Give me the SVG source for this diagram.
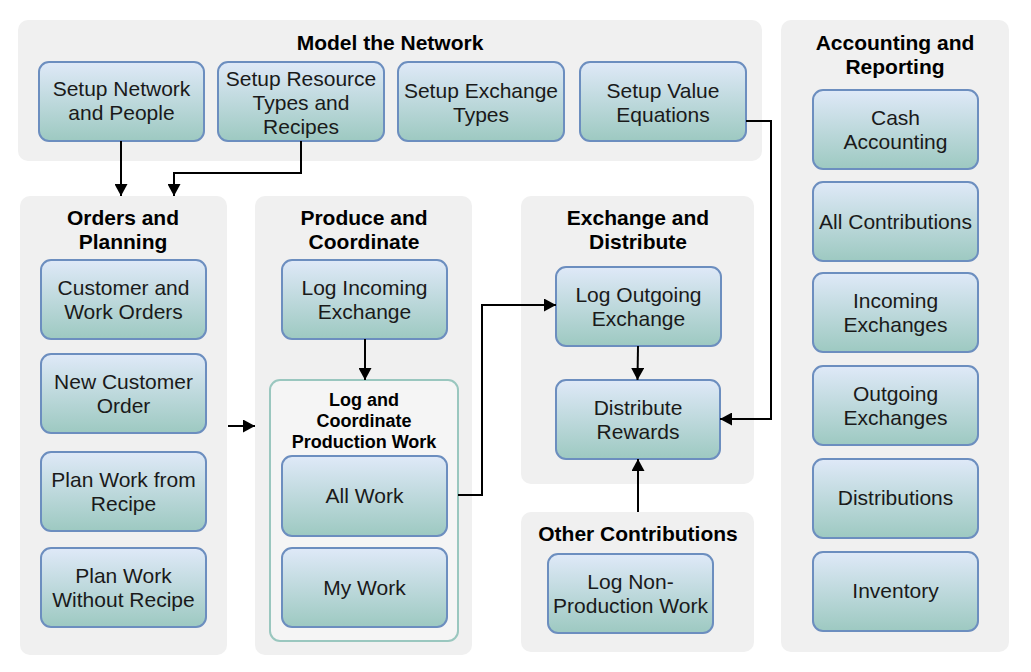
<svg xmlns="http://www.w3.org/2000/svg" width="1031" height="672" viewBox="0 0 1031 672">
<defs>
<linearGradient id="g" x1="0" y1="0" x2="0" y2="1">
<stop offset="0" stop-color="#dfe9f8"/>
<stop offset="1" stop-color="#9dc9c1"/>
</linearGradient>
<marker id="ah" viewBox="0 0 12 13" refX="12" refY="6.5" markerWidth="12" markerHeight="13" markerUnits="userSpaceOnUse" orient="auto">
<path d="M0,0 L12,6.5 L0,13 z" fill="#000"/>
</marker>
</defs>
<style>
.c{fill:#f0f0f0;stroke:none}
.n{fill:url(#g);stroke:#6c8ebf;stroke-width:2}
.t{font-family:"Liberation Sans",Arial,sans-serif;font-size:21px;fill:#1a1a1a;text-anchor:middle}
.h{font-family:"Liberation Sans",Arial,sans-serif;font-size:21px;font-weight:bold;fill:#000;text-anchor:middle}
.s{font-family:"Liberation Sans",Arial,sans-serif;font-size:18px;font-weight:bold;fill:#000;text-anchor:middle}
.e{fill:none;stroke:#000;stroke-width:2;marker-end:url(#ah)}
</style>
<rect width="1031" height="672" fill="#fff"/>

<g id="model">
<rect class="c" x="18" y="20" width="744" height="141" rx="10"/>
<text class="h" x="390" y="50">Model the Network</text>
</g>
<g id="accounting">
<rect class="c" x="781" y="20" width="228" height="632" rx="10"/>
<text class="h" x="895" y="50">Accounting and</text>
<text class="h" x="895" y="74">Reporting</text>
</g>
<g id="orders">
<rect class="c" x="20" y="196" width="207" height="459" rx="10"/>
<text class="h" x="123" y="225">Orders and</text>
<text class="h" x="123" y="249">Planning</text>
</g>
<g id="produce">
<rect class="c" x="255" y="196" width="217" height="459" rx="10"/>
<text class="h" x="364" y="225">Produce and</text>
<text class="h" x="364" y="249">Coordinate</text>
</g>
<g id="exchange">
<rect class="c" x="521" y="196" width="233" height="288" rx="10"/>
<text class="h" x="638" y="225">Exchange and</text>
<text class="h" x="638" y="249">Distribute</text>
</g>
<g id="other">
<rect class="c" x="521" y="512" width="233" height="140" rx="10"/>
<text class="h" x="638" y="541">Other Contributions</text>
</g>

<g id="setup-network">
<rect class="n" x="39" y="62" width="165" height="79" rx="10"/>
<text class="t" x="121.5" y="96">Setup Network</text>
<text class="t" x="121.5" y="120">and People</text>
</g>
<g id="setup-resource">
<rect class="n" x="218" y="62" width="166" height="79" rx="10"/>
<text class="t" x="301" y="86">Setup Resource</text>
<text class="t" x="301" y="110">Types and</text>
<text class="t" x="301" y="134">Recipes</text>
</g>
<g id="setup-exchange">
<rect class="n" x="398" y="62" width="166" height="79" rx="10"/>
<text class="t" x="481" y="98">Setup Exchange</text>
<text class="t" x="481" y="122">Types</text>
</g>
<g id="setup-value">
<rect class="n" x="580" y="62" width="166" height="79" rx="10"/>
<text class="t" x="663" y="98">Setup Value</text>
<text class="t" x="663" y="122">Equations</text>
</g>

<g id="customer-work-orders">
<rect class="n" x="41" y="260" width="165" height="79" rx="10"/>
<text class="t" x="123.5" y="295">Customer and</text>
<text class="t" x="123.5" y="319">Work Orders</text>
</g>
<g id="new-customer-order">
<rect class="n" x="41" y="354" width="165" height="79" rx="10"/>
<text class="t" x="123.5" y="389">New Customer</text>
<text class="t" x="123.5" y="413">Order</text>
</g>
<g id="plan-recipe">
<rect class="n" x="41" y="452" width="165" height="79" rx="10"/>
<text class="t" x="123.5" y="487">Plan Work from</text>
<text class="t" x="123.5" y="511">Recipe</text>
</g>
<g id="plan-no-recipe">
<rect class="n" x="41" y="548" width="165" height="79" rx="10"/>
<text class="t" x="123.5" y="583">Plan Work</text>
<text class="t" x="123.5" y="607">Without Recipe</text>
</g>

<g id="log-incoming">
<rect class="n" x="282" y="260" width="165" height="79" rx="10"/>
<text class="t" x="364.5" y="295">Log Incoming</text>
<text class="t" x="364.5" y="319">Exchange</text>
</g>
<g id="log-coordinate">
<rect x="270" y="380" width="188" height="261" rx="10" fill="#f5f5f5" stroke="#9ac7bf" stroke-width="2"/>
<text class="s" x="364" y="406">Log and</text>
<text class="s" x="364" y="427">Coordinate</text>
<text class="s" x="364" y="448">Production Work</text>
</g>
<g id="all-work">
<rect class="n" x="282" y="456" width="165" height="80" rx="10"/>
<text class="t" x="364.5" y="503">All Work</text>
</g>
<g id="my-work">
<rect class="n" x="282" y="548" width="165" height="79" rx="10"/>
<text class="t" x="364.5" y="595">My Work</text>
</g>

<g id="log-outgoing">
<rect class="n" x="556" y="267" width="165" height="79" rx="10"/>
<text class="t" x="638.5" y="302">Log Outgoing</text>
<text class="t" x="638.5" y="326">Exchange</text>
</g>
<g id="distribute-rewards">
<rect class="n" x="556" y="380" width="164" height="79" rx="10"/>
<text class="t" x="638" y="415">Distribute</text>
<text class="t" x="638" y="439">Rewards</text>
</g>
<g id="log-non-production">
<rect class="n" x="548" y="554" width="165" height="79" rx="10"/>
<text class="t" x="630.5" y="589">Log Non-</text>
<text class="t" x="630.5" y="613">Production Work</text>
</g>

<g id="cash-accounting">
<rect class="n" x="813" y="90" width="165" height="79" rx="10"/>
<text class="t" x="895.5" y="125">Cash</text>
<text class="t" x="895.5" y="149">Accounting</text>
</g>
<g id="all-contributions">
<rect class="n" x="813" y="182" width="165" height="79" rx="10"/>
<text class="t" x="895.5" y="229">All Contributions</text>
</g>
<g id="incoming-exchanges">
<rect class="n" x="813" y="273" width="165" height="79" rx="10"/>
<text class="t" x="895.5" y="308">Incoming</text>
<text class="t" x="895.5" y="332">Exchanges</text>
</g>
<g id="outgoing-exchanges">
<rect class="n" x="813" y="366" width="165" height="79" rx="10"/>
<text class="t" x="895.5" y="401">Outgoing</text>
<text class="t" x="895.5" y="425">Exchanges</text>
</g>
<g id="distributions">
<rect class="n" x="813" y="459" width="165" height="79" rx="10"/>
<text class="t" x="895.5" y="505">Distributions</text>
</g>
<g id="inventory">
<rect class="n" x="813" y="552" width="165" height="79" rx="10"/>
<text class="t" x="895.5" y="598">Inventory</text>
</g>

<g id="connectors">
<path class="e" d="M121,141 L121,196"/>
<path class="e" d="M301,141 L301,173 L174,173 L174,196"/>
<path class="e" d="M746,121 L771,121 L771,419 L720,419"/>
<path class="e" d="M365,339 L365,380"/>
<path class="e" d="M228,426 L255,426"/>
<path class="e" d="M458,495 L482,495 L482,305 L556,305"/>
<path class="e" d="M638,346 L637.5,380"/>
<path class="e" d="M638,512 L638,459"/>
</g>
</svg>
